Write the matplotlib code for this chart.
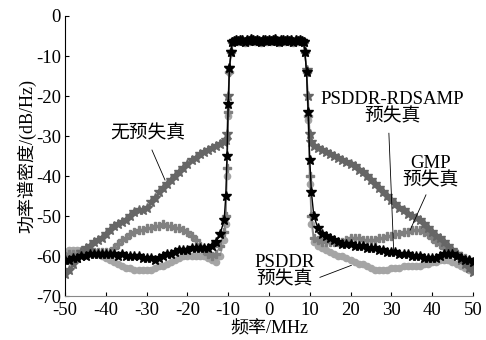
import matplotlib
matplotlib.use("Agg")
import matplotlib.pyplot as plt

plt.rcParams["font.family"] = ["Liberation Serif", "Noto Sans CJK SC"]
plt.rcParams["axes.unicode_minus"] = False

# ---------------- data ---------------- #
f_left = list(range(-50, -10))          # -50 .. -11 MHz
f_edge_l = [-10.6, -10.3, -10.0, -9.7, -9.3]
f_band = [x / 2 for x in range(-18, 18)]  # -9 .. 8.5 MHz
f_edge_r = [8.8, 9.2, 9.6, 10.0, 10.4]
f_right = list(range(11, 51))           # 11 .. 50 MHz

band = [-6.5, -6.2, -6.0, -6.3, -5.9, -6.1, -6.4, -6.0, -6.2, -5.8,
        -6.1, -6.3, -6.0, -6.2, -6.5, -6.1, -5.9, -6.2, -6.0, -6.3,
        -6.1, -5.8, -6.2, -6.4, -6.0, -6.1, -6.3, -5.9, -6.2, -6.0,
        -6.4, -6.1, -6.2, -6.0, -6.3, -6.6]

# no predistortion
nopd_left = [-64.5, -63.5, -62, -60.5, -59, -58, -57.5, -56.5, -56, -55.5,
             -54.5, -53.5, -52.5, -52, -51.5, -51, -50, -49, -48.5, -48.5,
             -48, -46.5, -45.5, -44, -43, -42, -41, -40, -39, -38,
             -37, -36, -35.5, -34.5, -34, -33.5, -33, -32.5, -32, -31.5]
nopd_edge_l = [-31, -29.5, -20, -13, -9]
nopd_edge_r = [-9, -13.5, -20, -29.5, -31.5]
nopd_right = [-32.5, -33, -33.5, -34, -34.5, -35, -35.5, -36, -36.5, -37,
              -37.5, -38.5, -39, -40, -41, -42, -43, -44, -45, -46,
              -47, -48, -48.5, -49.5, -50, -50.5, -51, -52, -53, -54,
              -55, -55.5, -56.5, -57.5, -58.5, -59.5, -61, -62, -63, -64]

# PSDDR-RDSAMP predistortion
rds_left = [-61, -61, -60.5, -60.5, -60, -60, -59.5, -59.5, -59.5, -59.5,
            -59.5, -59.5, -59.5, -60, -59.5, -60, -60, -60, -60, -60.5,
            -60.5, -60.5, -61, -60.5, -60, -59.5, -59.5, -59, -58.5, -58.5,
            -58.5, -58, -58, -58, -58, -58, -57.5, -56.5, -54.5, -51]
rds_edge_l = [-45, -35, -22, -13, -9]
rds_edge_r = [-9, -14, -24, -36, -44]
rds_right = [-50, -53, -54.5, -55, -55.5, -56, -56.5, -57, -57, -57,
             -57.5, -57.5, -57.5, -58, -58, -58, -58.5, -58.5, -59, -59,
             -59, -59.5, -59.5, -59.5, -60, -60, -60, -60.5, -60.5, -60.5,
             -60.5, -60, -59.5, -59.5, -59.5, -60, -60.5, -61, -61, -61.5]

# GMP predistortion
gmp_left = [-60, -59.5, -59.5, -59.5, -59, -59, -59, -59, -59, -59,
            -59, -59, -58, -57, -56, -55.5, -54.5, -54, -53.5, -53.5,
            -53, -53, -52.5, -52.5, -52, -52.5, -52.5, -53, -53, -53.5,
            -54, -55, -56, -57.5, -58.5, -59.5, -60, -59.5, -57.5, -54]
gmp_edge_l = [-50, -38, -24, -14, -9]
gmp_edge_r = [-9, -14, -25, -40, -50]
gmp_right = [-55.5, -56, -56.5, -56.5, -56.5, -56.5, -56.5, -56.5, -56, -55.5,
             -55.5, -55.5, -56, -56, -56, -56, -55.5, -55.5, -55, -55,
             -54.5, -54.5, -54, -54, -53.5, -53.5, -53.5, -54, -54.5, -55.5,
             -56.5, -57, -58, -58.5, -59, -59.5, -60, -60.5, -61, -61.5]

# PSDDR predistortion
ps_left = [-59, -58.5, -58.5, -58.5, -58.5, -59, -59, -59, -59.5, -60,
           -60.5, -61, -61.5, -62, -62.5, -63, -63, -63.5, -63.5, -63.5,
           -63.5, -63.5, -63, -62.5, -62.5, -62, -61.5, -61, -60.5, -60,
           -60, -60, -60, -60, -60, -60.5, -61, -61.5, -60, -56]
ps_edge_l = [-52, -40, -25, -14, -9]
ps_edge_r = [-9, -14, -26, -42, -52]
ps_right = [-56.5, -57.5, -58, -58.5, -59, -59.5, -60, -60, -60.5, -61,
            -61.5, -62, -62, -62.5, -63, -63.5, -63.5, -63.5, -63.5, -63,
            -63, -63, -62.5, -62.5, -62.5, -62.5, -62.5, -62, -62, -61.5,
            -61.5, -61, -61, -61, -61.5, -62, -62.5, -63, -63.5, -63.5]

freq = f_left + f_edge_l + f_band + f_edge_r + f_right

x_ticks = [-50, -40, -30, -20, -10, 0, 10, 20, 30, 40, 50]
y_ticks = [0, -10, -20, -30, -40, -50, -60, -70]

# ---------------- plot ---------------- #
fig = plt.figure(figsize=(4.86, 3.40), dpi=100)
ax = fig.add_axes([0.134, 0.129, 0.839, 0.824])

curves = [
    (ps_left, ps_edge_l, ps_edge_r, ps_right, "#a5a5a5", "o", 4.5),
    (gmp_left, gmp_edge_l, gmp_edge_r, gmp_right, "#808080", "P", 5.5),
    (nopd_left, nopd_edge_l, nopd_edge_r, nopd_right, "#666666", "*", 7),
    (rds_left, rds_edge_l, rds_edge_r, rds_right, "#000000", "*", 7),
]
for left, el, er, right, col, mk, ms in curves:
    vals = left + el + band + er + right
    ax.plot(freq, vals, color=col, lw=1.0, marker=mk, ms=ms,
            mec=col, mfc=col, mew=1.0)

# annotations
fs = 13.5
ax.text(-29.7, -29.5, "无预失真", ha="center", va="center", fontsize=fs)
ax.plot([-28.7, -25.5], [-33.5, -41], color="black", lw=0.6)

ax.text(30.2, -23.0, "PSDDR-RDSAMP\n预失真", ha="center", va="center",
        fontsize=fs, linespacing=1.0)
ax.plot([29.4, 30.6], [-29.3, -59.3], color="black", lw=0.6)

ax.text(39.5, -39.0, "GMP\n预失真", ha="center", va="center",
        fontsize=fs, linespacing=1.0)
ax.plot([38.5, 34.6], [-44.7, -53.5], color="black", lw=0.6)

ax.text(3.9, -63.8, "PSDDR\n预失真", ha="center", va="center",
        fontsize=fs, linespacing=1.0)
ax.plot([12.5, 20.2], [-65.3, -62.3], color="black", lw=0.6)

ax.set_xlim(-50, 50)
ax.set_ylim(-70, 0)
ax.set_xticks(x_ticks)
ax.set_yticks(y_ticks)
ax.tick_params(direction="in", length=3, labelsize=13.5, pad=3)
ax.tick_params(axis="x", pad=4)
for s in ["top", "right"]:
    ax.spines[s].set_visible(False)
ax.spines["bottom"].set_color("#888888")
ax.set_xlabel("频率/MHz", fontsize=13, labelpad=1)
ax.set_ylabel("功率谱密度/(dB/Hz)", fontsize=13, labelpad=0)

plt.savefig("out.png", dpi=100)
